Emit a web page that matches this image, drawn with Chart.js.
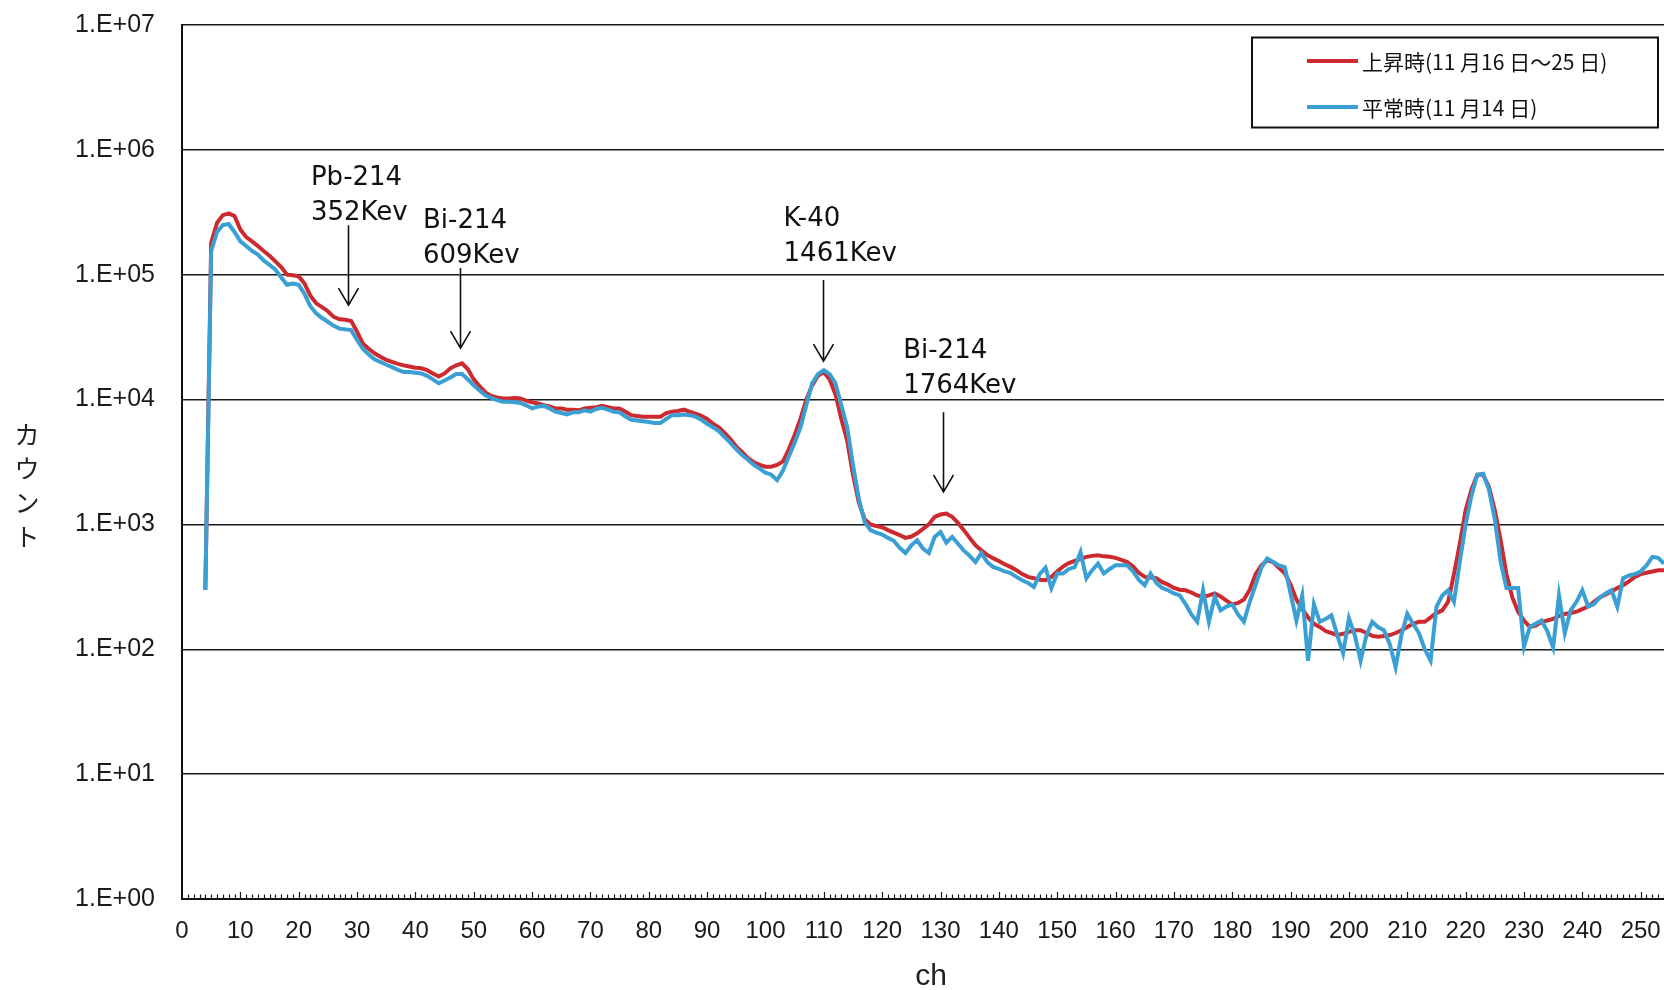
<!DOCTYPE html>
<html>
<head>
<meta charset="utf-8">
<script src="https://cdn.jsdelivr.net/npm/chart.js@4.4.1/dist/chart.umd.min.js"></script>
<style>
  html, body { margin: 0; padding: 0; background: #ffffff; }
  #wrap { width: 1664px; height: 990px; }
</style>
</head>
<body>
<div id="wrap"><canvas id="c" width="1664" height="990"></canvas></div>
<script>
// ---------------- data ----------------
const firstChannel = 4;
const seriesLabels = ['上昇時(11 月16 日～25 日)', '平常時(11 月14 日)'];
const xTickValues = [0,10,20,30,40,50,60,70,80,90,100,110,120,130,140,150,160,170,180,190,200,210,220,230,240,250];
const yTickValues = [1,10,100,1000,10000,100000,1000000,10000000];

// 上昇時 (ch 4 .. 254)
const risingCounts = [
  300, 1.8e5, 2.6e5, 3.0e5, 3.1e5, 2.95e5,
  2.3e5, 2.0e5, 1.85e5, 1.7e5, 1.55e5, 1.42e5, 1.28e5, 1.15e5, 1.0e5, 9.9e4,
  9.7e4, 8.5e4, 6.8e4, 5.9e4, 5.5e4, 5.1e4, 4.6e4, 4.4e4, 4.35e4, 4.25e4,
  3.5e4, 2.8e4, 2.55e4, 2.35e4, 2.2e4, 2.08e4, 2.0e4, 1.93e4, 1.88e4, 1.84e4,
  1.8e4, 1.78e4, 1.72e4, 1.62e4, 1.53e4, 1.62e4, 1.78e4, 1.88e4, 1.95e4, 1.75e4,
  1.45e4, 1.28e4, 1.14e4, 1.07e4, 1.04e4, 1.02e4, 1.02e4, 1.03e4, 1.02e4, 9.8e3,
  9.5e3, 9.3e3, 9.0e3, 8.8e3, 8.5e3, 8.5e3, 8.3e3, 8.3e3, 8.2e3, 8.5e3,
  8.6e3, 8.7e3, 8.9e3, 8.7e3, 8.5e3, 8.5e3, 8.0e3, 7.5e3, 7.4e3, 7.3e3,
  7.3e3, 7.3e3, 7.3e3, 7.8e3, 8.0e3, 8.1e3, 8.3e3, 8.0e3, 7.7e3, 7.4e3,
  7.0e3, 6.4e3, 6.0e3, 5.4e3, 4.8e3, 4.2e3, 3.8e3, 3.4e3, 3.15e3, 3.0e3,
  2.9e3, 2.9e3, 3.0e3, 3.2e3, 4.0e3, 5.2e3, 7.0e3, 1.0e4, 1.3e4, 1.55e4,
  1.66e4, 1.45e4, 1.1e4, 7.0e3, 4.7e3, 2.5e3, 1.5e3, 1.1e3, 1.0e3, 970,
  950, 900, 860, 820, 780, 800, 850, 920, 1000, 1150,
  1200, 1220, 1150, 1030, 900, 780, 680, 620, 570, 537,
  510, 480, 457, 430, 400, 380, 371, 360, 357, 380,
  420, 460, 490, 510, 530, 550, 560, 566, 555, 550,
  540, 520, 500, 460, 410, 380, 375, 371, 345, 330,
  310, 300, 297, 285, 270, 263, 270, 280, 265, 245,
  229, 235, 250, 300, 400, 470, 516, 500, 450, 407,
  330, 250, 210, 180, 160, 151, 140, 135, 130, 133,
  138, 142, 142, 135, 128, 126, 128, 130, 135, 142,
  151, 160, 166, 166, 180, 195, 205, 240, 400, 700,
  1300, 1900, 2500, 2500, 2000, 1300, 750, 400, 260, 200,
  170, 151, 155, 165, 170, 175, 185, 192, 195, 200,
  210, 220, 240, 260, 275, 290, 310, 326, 350, 380,
  400, 410, 420, 430, 430
];

// 平常時 (ch 4 .. 254)
const normalCounts = [
  300, 1.55e5, 2.2e5, 2.5e5, 2.55e5, 2.2e5,
  1.85e5, 1.7e5, 1.55e5, 1.45e5, 1.3e5, 1.2e5, 1.1e5, 9.5e4, 8.3e4, 8.5e4,
  8.3e4, 7.0e4, 5.6e4, 4.9e4, 4.5e4, 4.2e4, 3.9e4, 3.7e4, 3.65e4, 3.6e4,
  3.0e4, 2.55e4, 2.3e4, 2.1e4, 2.0e4, 1.9e4, 1.82e4, 1.73e4, 1.66e4, 1.66e4,
  1.64e4, 1.62e4, 1.55e4, 1.45e4, 1.35e4, 1.42e4, 1.5e4, 1.6e4, 1.6e4, 1.45e4,
  1.3e4, 1.18e4, 1.08e4, 1.03e4, 9.9e3, 9.6e3, 9.6e3, 9.5e3, 9.4e3, 9.0e3,
  8.5e3, 8.8e3, 8.9e3, 8.5e3, 8.0e3, 7.8e3, 7.6e3, 7.9e3, 7.9e3, 8.2e3,
  8.0e3, 8.4e3, 8.6e3, 8.3e3, 8.0e3, 7.9e3, 7.3e3, 6.9e3, 6.8e3, 6.7e3,
  6.6e3, 6.5e3, 6.5e3, 7.0e3, 7.5e3, 7.5e3, 7.6e3, 7.5e3, 7.3e3, 6.9e3,
  6.4e3, 6.0e3, 5.6e3, 5.0e3, 4.5e3, 4.0e3, 3.6e3, 3.3e3, 3.0e3, 2.8e3,
  2.6e3, 2.5e3, 2.26e3, 2.7e3, 3.5e3, 4.5e3, 6.0e3, 9.0e3, 1.35e4, 1.6e4,
  1.72e4, 1.6e4, 1.35e4, 9.0e3, 6.0e3, 3.0e3, 1.6e3, 1.05e3, 900, 860,
  830, 780, 740, 650, 590, 680, 746, 640, 590, 795,
  870, 715, 795, 700, 617, 560, 500, 590, 500, 457,
  440, 420, 407, 380, 357, 340, 316, 400, 450, 309,
  404, 404, 440, 455, 600, 371, 430, 485, 404, 440,
  470, 470, 470, 420, 360, 326, 404, 340, 310, 297,
  280, 270, 230, 190, 166, 297, 166, 263, 205, 220,
  229, 190, 166, 240, 326, 450, 533, 500, 470, 455,
  280, 170, 270, 81, 229, 166, 175, 187, 130, 93,
  177, 130, 81, 130, 166, 150, 142, 110, 72, 130,
  192, 160, 135, 100, 81, 219, 270, 297, 240, 500,
  1000, 1700, 2500, 2550, 1900, 1100, 500, 309, 309, 309,
  105, 151, 160, 170, 140, 103, 270, 135, 205, 240,
  297, 220, 230, 260, 280, 297, 219, 371, 390, 400,
  420, 470, 550, 540, 485
];

// peak annotations (in data units: channel / count)
const peakNotes = [
  { lines: ['Pb-214', '352Kev'],  textCh: 22.1,  textVal: 5.9e5, arrowCh: 28.5,  fromVal: 2.49e5, toVal: 5.7e4 },
  { lines: ['Bi-214', '609Kev'],  textCh: 41.3,  textVal: 2.7e5, arrowCh: 47.7,  fromVal: 1.13e5, toVal: 2.58e4 },
  { lines: ['K-40', '1461Kev'],   textCh: 103.1, textVal: 2.8e5, arrowCh: 109.8, fromVal: 9.06e4, toVal: 2.03e4 },
  { lines: ['Bi-214', '1764Kev'], textCh: 123.6, textVal: 2.45e4, arrowCh: 130.5, fromVal: 7.9e3,  toVal: 1.82e3 }
];

const RED = '#cc2a2e';
const BLUE = '#3a9fd2';

function toPoints(arr) {
  return arr.map((v, i) => ({ x: firstChannel + i, y: v }));
}

// ---------------- decorations plugin ----------------
const decorations = {
  id: 'decorations',
  afterDraw(chart) {
    const ctx = chart.ctx;
    const xs = chart.scales.x, ys = chart.scales.y;
    const area = chart.chartArea;
    ctx.save();

    // minor tick marks (inside, every channel)
    ctx.strokeStyle = '#1a1a1a';
    ctx.lineWidth = 1.2;
    ctx.beginPath();
    for (let c = 1; c <= xs.max; c++) {
      const px = Math.round(xs.getPixelForValue(c)) + 0.5;
      const len = (c % 10 === 0) ? 7 : 4.5;
      ctx.moveTo(px, area.bottom);
      ctx.lineTo(px, area.bottom - len);
    }
    ctx.stroke();

    // peak annotations
    ctx.fillStyle = '#111';
    ctx.strokeStyle = '#111';
    ctx.font = '26px "DejaVu Sans"';
    ctx.textAlign = 'left';
    ctx.textBaseline = 'middle';
    peakNotes.forEach(n => {
      const tx = xs.getPixelForValue(n.textCh);
      const ty = ys.getPixelForValue(n.textVal);
      n.lines.forEach((t, i) => ctx.fillText(t, tx, ty + i * 35));
      const ax = Math.round(xs.getPixelForValue(n.arrowCh)) + 0.5;
      const y0 = ys.getPixelForValue(n.fromVal);
      const y1 = ys.getPixelForValue(n.toVal);
      ctx.lineWidth = 1.6;
      ctx.beginPath();
      ctx.moveTo(ax, y0);
      ctx.lineTo(ax, y1);
      ctx.moveTo(ax - 10, y1 - 17);
      ctx.lineTo(ax, y1);
      ctx.lineTo(ax + 10, y1 - 17);
      ctx.stroke();
    });

    // legend box
    const lx = 1252, ly = 37.5, lw = 406, lh = 90;
    ctx.lineWidth = 2;
    ctx.strokeStyle = '#111';
    ctx.strokeRect(lx, ly, lw, lh);
    ctx.font = '21px "Noto Sans CJK JP"';
    ctx.textBaseline = 'middle';
    chart.data.datasets.forEach((ds, i) => {
      const yy = 61 + i * 46;
      ctx.strokeStyle = ds.borderColor;
      ctx.lineWidth = 4;
      ctx.beginPath();
      ctx.moveTo(1307, yy);
      ctx.lineTo(1358, yy);
      ctx.stroke();
      ctx.fillStyle = '#111';
      ctx.fillText(ds.label, 1362, yy + 1);
    });

    // axis titles
    ctx.fillStyle = '#222';
    ctx.font = '30px "Liberation Sans"';
    ctx.textAlign = 'center';
    ctx.fillText('ch', 931, 977);
    ctx.font = '25px "Noto Sans CJK JP"';
    const yTitle = ['カ', 'ウ', 'ン', 'ト'];
    yTitle.forEach((ch, i) => ctx.fillText(ch, 27, 434 + i * 34));

    ctx.restore();
  }
};

// ---------------- chart ----------------
new Chart(document.getElementById('c'), {
  type: 'line',
  data: {
    datasets: [
      { label: seriesLabels[0], data: toPoints(risingCounts), borderColor: RED, backgroundColor: RED,
        borderWidth: 4, pointRadius: 0, tension: 0, order: 1 },
      { label: seriesLabels[1], data: toPoints(normalCounts), borderColor: BLUE, backgroundColor: BLUE,
        borderWidth: 4, pointRadius: 0, tension: 0, order: 0 }
    ]
  },
  options: {
    responsive: false,
    animation: false,
    devicePixelRatio: 1,
    layout: { padding: { left: 0, right: 0, top: 25, bottom: 0 } },
    plugins: { legend: { display: false }, tooltip: { enabled: false } },
    scales: {
      x: {
        type: 'linear',
        min: 0,
        max: 254,
        afterBuildTicks(scale) { scale.ticks = xTickValues.map(v => ({ value: v })); },
        afterFit(scale) { scale.height = 91; scale.paddingRight = 0; scale.paddingLeft = 0; },
        grid: { display: true, drawOnChartArea: false, drawTicks: false },
        border: { display: true, color: '#111', width: 2 },
        ticks: {
          autoSkip: false, maxRotation: 0, padding: 18, color: '#1a1a1a',
          font: { family: 'Liberation Sans', size: 24 },
          callback: v => String(v)
        }
      },
      y: {
        type: 'logarithmic',
        min: 1,
        max: 1e7,
        afterBuildTicks(scale) { scale.ticks = yTickValues.map(v => ({ value: v })); },
        afterFit(scale) { scale.width = 182; scale.paddingTop = 0; scale.paddingBottom = 0; },
        grid: { color: '#1a1a1a', lineWidth: 1.5, drawTicks: false },
        border: { display: true, color: '#111', width: 2 },
        ticks: {
          padding: 27, color: '#1a1a1a',
          font: { family: 'Liberation Sans', size: 25 },
          callback: v => '1.E+' + String(Math.round(Math.log10(v))).padStart(2, '0')
        }
      }
    }
  },
  plugins: [decorations]
});
</script>
</body>
</html>
